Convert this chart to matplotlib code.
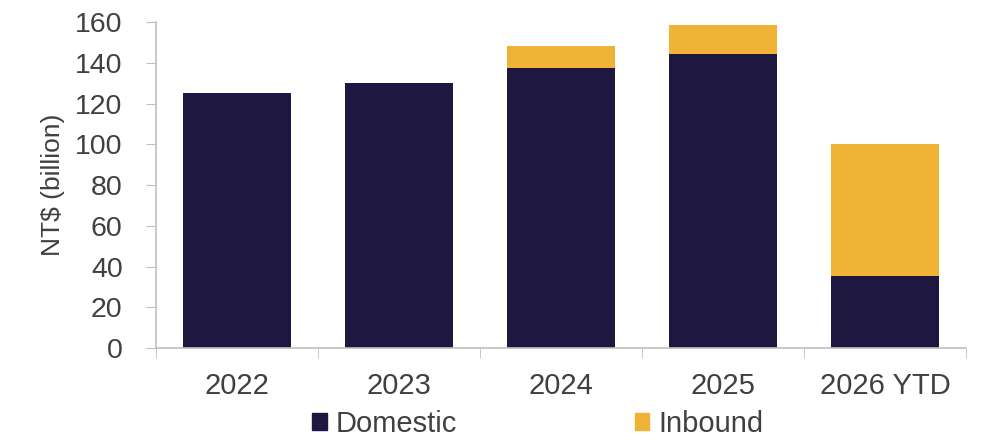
import matplotlib.pyplot as plt
from matplotlib.patches import Patch

plt.rcParams['font.family'] = ['Liberation Sans', 'DejaVu Sans']

years = ['2022', '2023', '2024', '2025', '2026 YTD']
domestic = [125, 130, 137.5, 144.5, 35.5]
inbound = [0, 0, 10.5, 14, 64.5]

dom_color = '#1e1840'
inb_color = '#f0b336'
text_color = '#404040'
axis_color = '#bfbfbf'

fig = plt.figure(figsize=(9.83, 4.40), dpi=100)
ax = fig.add_axes([0.1587, 0.209, 0.824, 0.741])

x = range(len(years))
ax.bar(x, domestic, width=0.667, color=dom_color)
ax.bar(x, inbound, width=0.667, bottom=domestic, color=inb_color)

ax.set_xlim(-0.5, len(years) - 0.5)
ax.set_ylim(0, 160)
ax.set_yticks(range(0, 161, 20))
ax.set_xticks(list(x))
ax.set_xticklabels(years)
ax.set_xticks([i - 0.5 for i in range(len(years) + 1)], minor=True)
ax.tick_params(axis='x', which='major', length=0, pad=17, labelsize=21, labelcolor=text_color)
ax.tick_params(axis='x', which='minor', length=7, color=axis_color, direction='out')
ax.tick_params(axis='y', length=7, color=axis_color, labelsize=20.5, labelcolor=text_color, pad=17)

for s in ['top', 'right']:
    ax.spines[s].set_visible(False)
for s in ['left', 'bottom']:
    ax.spines[s].set_color(axis_color)
    ax.spines[s].set_linewidth(1.2)

ax.set_ylabel('NT$ (billion)', fontsize=19, color=text_color, labelpad=7)

handles = [Patch(color=dom_color, label='Domestic'), Patch(color=inb_color, label='Inbound')]
fig.legend(handles=handles, loc='center', bbox_to_anchor=(0.547, 0.036), ncol=2,
           frameon=False, fontsize=21, labelcolor=text_color,
           handlelength=0.5, handleheight=0.5, handletextpad=0.3, columnspacing=6.1,
           borderpad=0.1)

fig.savefig('out.png', dpi=100)
